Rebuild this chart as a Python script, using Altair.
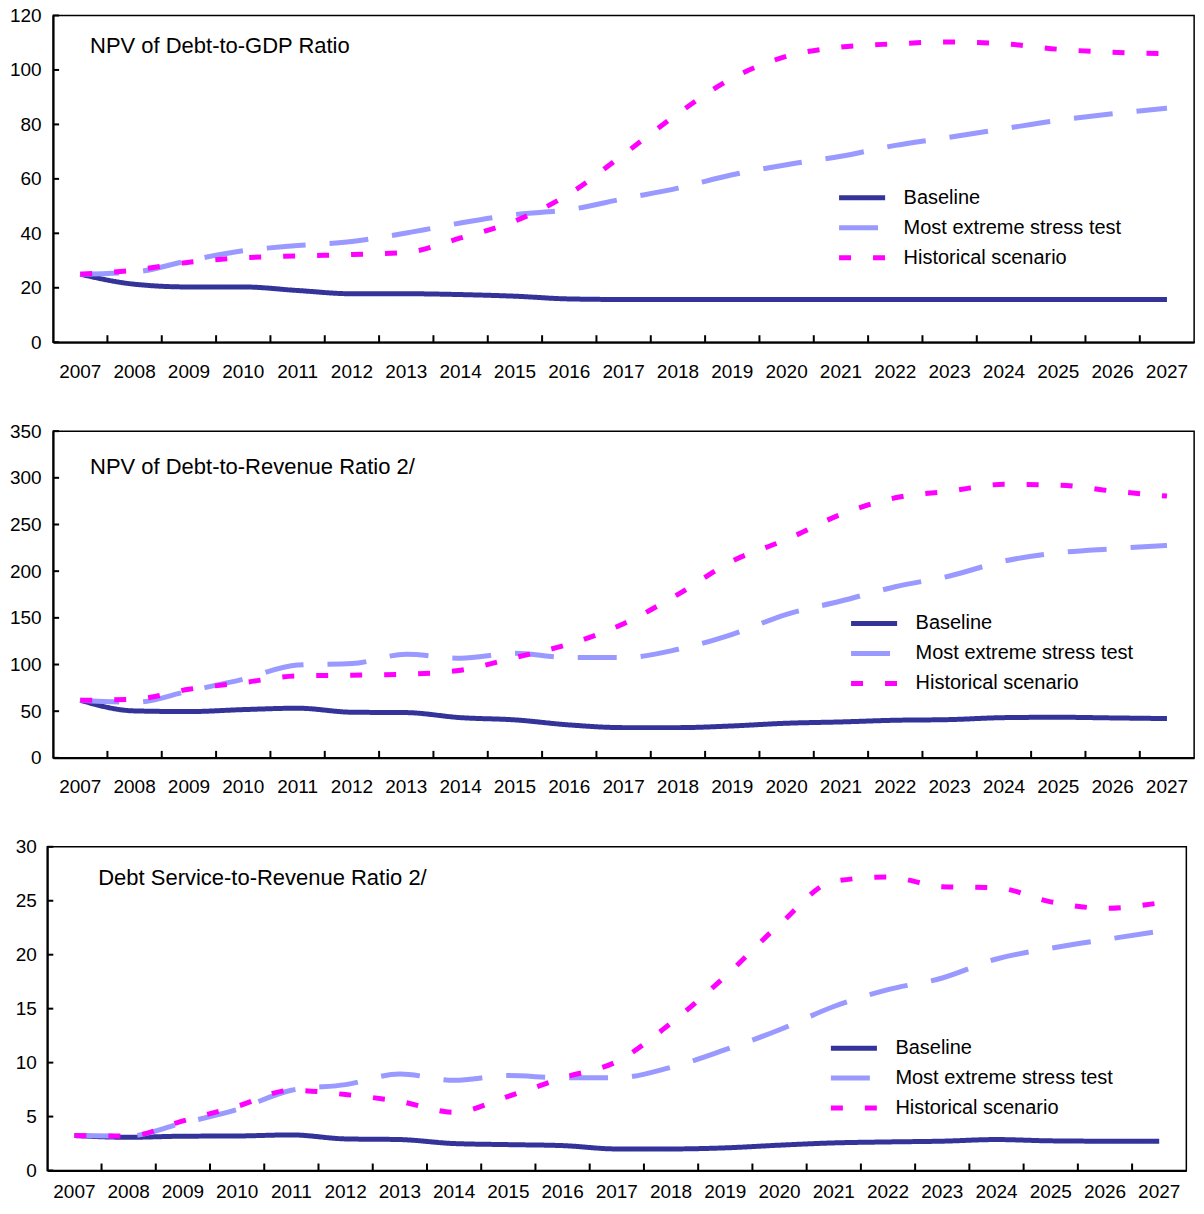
import altair as alt
import pandas as pd

years = [str(y) for y in range(2007, 2028)]
series = ["Baseline", "Most extreme stress test", "Historical scenario"]
colors = ["#333399", "#9999FF", "#FF00FF"]
dashes = [[1, 0], [39, 24], [12, 22]]

# Panel 1: NPV of Debt-to-GDP Ratio
p1_title = "NPV of Debt-to-GDP Ratio"
p1_base = [25, 21.3, 20.3, 20.3, 19.0, 17.8, 17.8, 17.5, 16.9, 15.9, 15.7, 15.7, 15.7, 15.7, 15.7, 15.7, 15.7, 15.7, 15.7, 15.7, 15.7]
p1_stress = [25, 25.8, 30, 33.6, 35.5, 37, 40.1, 43.8, 46.9, 48.7, 52.7, 56.6, 61.5, 65.2, 68.3, 72.3, 75.3, 78.4, 81.5, 83.9, 86]
p1_hist = [25, 26.5, 29.4, 31, 31.7, 32.2, 33, 38.3, 44.5, 54.5, 69, 84, 97, 105, 108.4, 109.6, 110.3, 109.6, 107.6, 106.5, 106]
p1_ticks = [0, 20, 40, 60, 80, 100, 120]

# Panel 2: NPV of Debt-to-Revenue Ratio 2/
p2_title = "NPV of Debt-to-Revenue Ratio 2/"
p2_base = [61.7, 50.3, 49.6, 51.7, 53.2, 48.9, 48.5, 43.1, 40.7, 35.3, 32.4, 32.4, 34.2, 37.1, 38.5, 40.3, 41, 43.1, 43.5, 42.8, 42.1]
p2_stress = [61.7, 59.5, 71.7, 84.2, 99.5, 101, 111, 106.7, 112, 107.4, 107.4, 116.3, 132.4, 153.8, 168, 183.3, 194.8, 210.8, 219.7, 224, 227.6]
p2_hist = [61.7, 62.8, 73.5, 80.6, 87.8, 88.5, 89.6, 93.9, 107.4, 122, 143.7, 175.2, 210.8, 234, 260.8, 278.6, 285.8, 293, 292.2, 285.8, 280.4]
p2_ticks = [0, 50, 100, 150, 200, 250, 300, 350]

# Panel 3: Debt Service-to-Revenue Ratio 2/
p3_title = "Debt Service-to-Revenue Ratio 2/"
p3_base = [3.24, 3.08, 3.18, 3.2, 3.3, 2.93, 2.87, 2.5, 2.4, 2.31, 2.0, 2.0, 2.1, 2.35, 2.56, 2.65, 2.72, 2.87, 2.75, 2.72, 2.72]
p3_stress = [3.24, 3.2, 4.4, 5.65, 7.44, 7.96, 8.95, 8.36, 8.8, 8.6, 8.6, 9.57, 11.2, 13.05, 15.2, 16.76, 17.84, 19.6, 20.6, 21.4, 22.16]
p3_hist = [3.24, 3.2, 4.6, 5.95, 7.44, 7.04, 6.4, 5.4, 6.88, 8.58, 10.1, 13.67, 18, 22.8, 26.8, 27.2, 26.3, 26.2, 24.9, 24.3, 24.8]
p3_ticks = [0, 5, 10, 15, 20, 25, 30]

FONT = "Liberation Sans"
LEGEND_SYMBOL = "M-1.39,0L1.39,0"


def panel(title, base, stress, hist, ticks, width, height, tx, ty, lx, ly, xpad, ypad, filler):
    df = pd.DataFrame({
        "year": years * 3,
        "series": [series[0]] * len(years) + [series[1]] * len(years) + [series[2]] * len(years),
        "value": base + stress + hist,
    })
    xs = alt.Scale(domain=years, paddingInner=0, paddingOuter=0)
    ys = alt.Scale(domain=[ticks[0], ticks[-1]], nice=False)
    xax = alt.Axis(title=None, labelAngle=0, ticks=False, tickSize=0, grid=False,
                   labelPadding=xpad, labelFontSize=19, labelFont=FONT, labelColor="black",
                   domainColor="black", domainWidth=2)
    yax = alt.Axis(title=None, values=ticks, ticks=False, tickSize=0, grid=False,
                   labelPadding=ypad, labelFontSize=19, labelFont=FONT, labelColor="black",
                   domainColor="black", domainWidth=2)
    leg = dict(
        title=None, orient="none", legendX=lx, legendY=ly, padding=0,
        symbolType=LEGEND_SYMBOL, symbolSize=1100, symbolStrokeWidth=5,
        labelFontSize=20, labelFont=FONT, labelColor="black",
        labelLimit=500, labelOffset=22, rowPadding=0,
    )
    lines = alt.Chart(df).mark_line(interpolate="monotone", strokeWidth=5, strokeCap="butt").encode(
        x=alt.X("year:N", scale=xs, sort=years, axis=xax),
        y=alt.Y("value:Q", scale=ys, axis=yax),
        color=alt.Color("series:N", sort=series, scale=alt.Scale(domain=series, range=colors),
                        legend=alt.Legend(**leg)),
        strokeDash=alt.StrokeDash("series:N", sort=series, scale=alt.Scale(domain=series, range=dashes),
                                  legend=alt.Legend(**leg)),
    )
    ytick = alt.Chart(pd.DataFrame({"value": ticks})).mark_rule(color="black", strokeWidth=2).encode(
        y=alt.Y("value:Q", scale=ys, axis=yax),
        x=alt.value(0), x2=alt.value(6),
    )
    xtick = alt.Chart(pd.DataFrame({"year": years[1:]})).mark_rule(color="black", strokeWidth=2).encode(
        x=alt.X("year:N", scale=xs, sort=years, bandPosition=0, axis=xax),
        y=alt.value(height), y2=alt.value(height - 7),
    )
    ttl = alt.Chart(pd.DataFrame({"t": [title]})).mark_text(
        align="left", baseline="middle", fontSize=22, font=FONT, color="black"
    ).encode(x=alt.value(tx), y=alt.value(ty), text="t:N")
    # invisible spacer to the right, so that the centred panels line up at their left edges
    spacer = alt.Chart(pd.DataFrame({"t": [title]})).mark_rule(
        color="white", strokeOpacity=0, strokeWidth=1
    ).encode(x=alt.value(width), x2=alt.value(width + filler), y=alt.value(height / 2))
    return alt.layer(lines, ytick, xtick, ttl, spacer).properties(width=width, height=height)


c1 = panel(p1_title, p1_base, p1_stress, p1_hist, p1_ticks, 1142, 327, 37, 31, 790.2, 163, 20, 12, 20)
c2 = panel(p2_title, p2_base, p2_stress, p2_hist, p2_ticks, 1142, 327, 37, 36, 802.2, 173, 20, 12, 20)
c3 = panel(p3_title, p3_base, p3_stress, p3_hist, p3_ticks, 1140, 324, 51, 31, 787.8, 182, 12, 11, 33.6)

chart = alt.vconcat(c1, c2, c3, spacing=39, center=True).resolve_scale(
    color="independent", strokeDash="independent"
).properties(
    padding={"top": -3, "bottom": 0, "left": 0, "right": -25}, background="white"
).configure(font=FONT).configure_view(stroke="black", strokeWidth=1.5, fill="white")

chart.save("out.html", embed_options={"renderer": "svg", "actions": False})
